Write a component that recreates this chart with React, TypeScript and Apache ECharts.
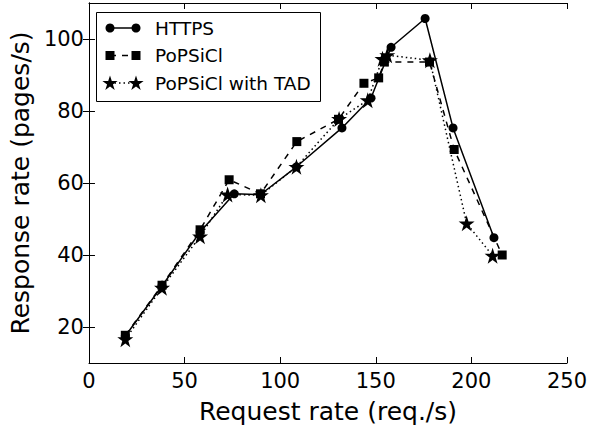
import React, { useEffect, useRef } from "react";
import * as echarts from "echarts";

const seriesNames = ["HTTPS", "PoPSiCl", "PoPSiCl with TAD"];

const httpsData: [number, number][] = [
  [19, 17.5], [38.2, 31.4], [58.1, 46.4], [76, 57], [89.7, 56.8], [108.5, 64.5],
  [132.3, 75.3], [147.5, 83.6], [158, 97.7], [175.8, 105.7], [190.4, 75.3], [211.8, 44.8],
];
const popsiclData: [number, number][] = [
  [19, 17.7], [38.2, 31.6], [58.1, 47], [73.3, 60.9], [89.7, 57], [108.7, 71.5],
  [130.5, 77.7], [143.8, 87.7], [151.5, 89.2], [154.5, 93.6], [178.1, 93.6], [191, 69.3], [216.1, 40],
];
const tadData: [number, number][] = [
  [19, 16.6], [38.2, 30.9], [58.1, 45.2], [72.5, 56.8], [89.9, 56.6], [108.5, 64.5],
  [130.8, 77.8], [145.8, 83], [153.5, 94.5], [156, 95.5], [178.3, 94.1], [197.5, 48.8], [211.1, 39.8],
];

const xTicks = [0, 50, 100, 150, 200, 250];
const yTicks = [20, 40, 60, 80, 100];

const STAR_PATH =
  "path://M50 0L61.2 34.5L97.6 34.5L68.2 55.9L79.4 90.5L50 69.1L20.6 90.5L31.8 55.9L2.4 34.5L38.8 34.5Z";

const FONT = "DejaVu Sans";

function starPoints(cx: number, cy: number, r: number): number[][] {
  const pts: number[][] = [];
  for (let i = 0; i < 10; i++) {
    const a = ((-90 + 36 * i) * Math.PI) / 180;
    const rr = i % 2 === 0 ? r : r * 0.382;
    pts.push([cx + rr * Math.cos(a), cy + rr * Math.sin(a)]);
  }
  return pts;
}

export default function App() {
  const ref = useRef<HTMLDivElement>(null);
  useEffect(() => {
    document.body.style.margin = "0";
    if (!ref.current) return;
    const chart = echarts.init(ref.current, undefined, { renderer: "svg" });

    const lineTypes: any[] = ["solid", [6, 6], [1.5, 3]];
    const rowY = [28, 55.5, 83];
    const legendGraphics: any[] = [
      {
        type: "rect",
        shape: { x: 96.5, y: 12.5, width: 224, height: 89 },
        style: { fill: "#fff", stroke: "#000", lineWidth: 1 },
        z: 100,
      },
    ];
    seriesNames.forEach((name, i) => {
      const y = rowY[i];
      legendGraphics.push({
        type: "line",
        shape: { x1: 110, y1: y, x2: 136, y2: y },
        style: { stroke: "#000", lineWidth: 1.5, lineDash: lineTypes[i] === "solid" ? null : lineTypes[i] },
        z: 101,
      });
      [110, 136].forEach((x) => {
        if (i === 0) {
          legendGraphics.push({ type: "circle", shape: { cx: x, cy: y, r: 4.5 }, style: { fill: "#000" }, z: 102 });
        } else if (i === 1) {
          legendGraphics.push({ type: "rect", shape: { x: x - 4.5, y: y - 4.5, width: 9, height: 9 }, style: { fill: "#000" }, z: 102 });
        } else {
          legendGraphics.push({ type: "polygon", shape: { points: starPoints(x, y + 0.5, 8) }, style: { fill: "#000" }, z: 102 });
        }
      });
      legendGraphics.push({
        type: "text",
        x: 155,
        y: y,
        style: { text: name, fontFamily: FONT, fontSize: 18.5, fill: "#000", verticalAlign: "middle", align: "left" },
        z: 102,
      });
    });

    const axisCommon = {
      axisLine: { show: true, lineStyle: { color: "#000", width: 1 } },
      splitLine: { show: false },
    };

    chart.setOption({
      animation: false,
      backgroundColor: "#fff",
      grid: { left: 87, top: 3, width: 480, height: 366, containLabel: false },
      xAxis: [
        {
          type: "value", min: 0, max: 250, interval: 50, position: "bottom",
          ...axisCommon,
          axisTick: { show: true, inside: true, length: 6, lineStyle: { color: "#000" } },
          axisLabel: { fontFamily: FONT, fontSize: 21, color: "#000", margin: 7, customValues: xTicks },
          name: "Request rate (req./s)", nameLocation: "middle", nameGap: 36,
          nameTextStyle: { fontFamily: FONT, fontSize: 25, color: "#000" },
        },
        {
          type: "value", min: 0, max: 250, interval: 50, position: "top",
          ...axisCommon,
          axisTick: { show: true, inside: true, length: 6, lineStyle: { color: "#000" } },
          axisLabel: { show: false },
        },
      ],
      yAxis: [
        {
          type: "value", min: 10, max: 110, position: "left",
          ...axisCommon,
          axisTick: { show: true, inside: true, length: 6, customValues: yTicks, lineStyle: { color: "#000" } },
          axisLabel: { fontFamily: FONT, fontSize: 21, color: "#000", margin: 5, customValues: yTicks },
          name: "Response rate (pages/s)", nameLocation: "middle", nameGap: 49,
          nameTextStyle: { fontFamily: FONT, fontSize: 25, color: "#000" },
        },
        {
          type: "value", min: 10, max: 110, position: "right",
          ...axisCommon,
          axisTick: { show: true, inside: true, length: 6, customValues: yTicks, lineStyle: { color: "#000" } },
          axisLabel: { show: false },
        },
      ],
      series: [
        {
          name: seriesNames[0], type: "line", data: httpsData,
          symbol: "circle", symbolSize: 9,
          lineStyle: { color: "#000", width: 1.5, type: "solid" },
          itemStyle: { color: "#000" },
        },
        {
          name: seriesNames[1], type: "line", data: popsiclData,
          symbol: "rect", symbolSize: 9,
          lineStyle: { color: "#000", width: 1.5, type: [6, 6] },
          itemStyle: { color: "#000" },
        },
        {
          name: seriesNames[2], type: "line", data: tadData,
          symbol: STAR_PATH, symbolSize: 16,
          lineStyle: { color: "#000", width: 1.5, type: [1.5, 3] },
          itemStyle: { color: "#000" },
        },
      ],
      graphic: legendGraphics,
    });
    return () => chart.dispose();
  }, []);
  return <div ref={ref} style={{ position: "fixed", left: 0, top: 0, width: 597, height: 429 }} />;
}
